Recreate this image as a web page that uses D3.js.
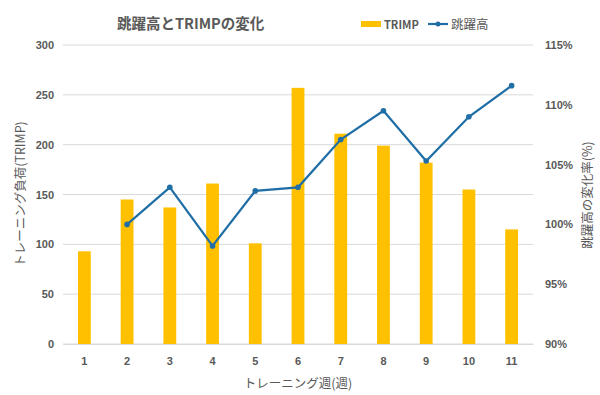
<!DOCTYPE html>
<html>
<head>
<meta charset="utf-8">
<script src="https://cdn.jsdelivr.net/npm/d3@7"></script>
<style>
  body { margin: 0; background: #fff; }
  svg { font-family: "Noto Sans CJK JP", "Noto Sans", sans-serif; }
</style>
</head>
<body>
<svg width="600" height="395"></svg>
<script>
// データ
const weeks = ["1", "2", "3", "4", "5", "6", "7", "8", "9", "10", "11"];
const trimp = [93, 145, 137, 161, 101, 257, 211, 199, 182, 155, 115];
const jumpRate = [null, 100.0, 103.1, 98.2, 102.8, 103.1, 107.1, 109.5, 105.3, 109.0, 111.6];
const leftTicks = [0, 50, 100, 150, 200, 250, 300];
const rightTicks = [90, 95, 100, 105, 110, 115];

const svg = d3.select("svg");
const textColor = "#595959";

// プロット領域
const area = { left: 63, right: 533, top: 45, bottom: 344 };

const scX = d3.scaleBand()
    .domain(weeks)
    .range([area.left, area.right])
    .paddingInner(0.7)
    .paddingOuter(0.35);

const scY = d3.scaleLinear().domain([0, 300]).range([area.bottom, area.top]);
const scY2 = d3.scaleLinear().domain([90, 115]).range([area.bottom, area.top]);

// グリッド線
svg.append("g")
    .selectAll("line")
    .data(leftTicks)
    .enter()
    .append("line")
    .attr("x1", area.left)
    .attr("x2", area.right)
    .attr("y1", d => scY(d))
    .attr("y2", d => scY(d))
    .style("stroke", "#d9d9d9")
    .style("stroke-width", 1);

// 左軸
const axisL = svg.append("g")
    .attr("transform", `translate(${area.left - 9}, 0)`)
    .call(d3.axisLeft(scY).tickValues(leftTicks).tickSize(0).tickPadding(0));
axisL.select(".domain").remove();

// 右軸
const axisR = svg.append("g")
    .attr("transform", `translate(${area.right + 12}, 0)`)
    .call(d3.axisRight(scY2).tickValues(rightTicks).tickSize(0).tickPadding(0)
        .tickFormat(d => d + "%"));
axisR.select(".domain").remove();

// X軸
const axisB = svg.append("g")
    .attr("transform", `translate(0, ${area.bottom})`)
    .call(d3.axisBottom(scX).tickSize(0).tickPadding(13));
axisB.select(".domain").style("stroke", "#d9d9d9");

svg.selectAll(".tick text")
    .style("font-size", "11px")
    .style("font-weight", "bold")
    .style("fill", textColor);

// 棒グラフ (TRIMP)
svg.selectAll("rect.bar")
    .data(weeks)
    .enter()
    .append("rect")
    .attr("class", "bar")
    .attr("x", d => scX(d))
    .attr("y", (d, i) => scY(trimp[i]))
    .attr("width", scX.bandwidth())
    .attr("height", (d, i) => area.bottom - scY(trimp[i]))
    .style("fill", "#ffc000");

// 折れ線 (跳躍高)
const lineData = weeks.map((d, i) => ({ week: d, value: jumpRate[i] }))
    .filter(d => d.value !== null);

const line = d3.line()
    .x(d => scX(d.week) + scX.bandwidth() / 2)
    .y(d => scY2(d.value));

svg.append("path")
    .datum(lineData)
    .attr("d", line)
    .style("fill", "none")
    .style("stroke", "#1f6ea6")
    .style("stroke-width", 2.2);

svg.selectAll("circle.pt")
    .data(lineData)
    .enter()
    .append("circle")
    .attr("class", "pt")
    .attr("cx", d => scX(d.week) + scX.bandwidth() / 2)
    .attr("cy", d => scY2(d.value))
    .attr("r", 2.8)
    .style("fill", "#1f6ea6");

// タイトル
svg.append("text")
    .attr("x", 117)
    .attr("y", 29)
    .text("跳躍高とTRIMPの変化")
    .style("font-size", "14.5px")
    .style("font-weight", "bold")
    .style("fill", textColor);

// 凡例
const legend = svg.append("g");
legend.append("rect")
    .attr("x", 361).attr("y", 21)
    .attr("width", 20).attr("height", 6)
    .style("fill", "#ffc000");
legend.append("text")
    .attr("x", 384).attr("y", 29)
    .text("TRIMP")
    .style("font-size", "11px")
    .style("font-weight", "bold")
    .style("fill", textColor);
legend.append("line")
    .attr("x1", 428).attr("x2", 448)
    .attr("y1", 24).attr("y2", 24)
    .style("stroke", "#1f6ea6")
    .style("stroke-width", 2.2);
legend.append("circle")
    .attr("cx", 438).attr("cy", 24).attr("r", 2.5)
    .style("fill", "#1f6ea6");
legend.append("text")
    .attr("x", 451).attr("y", 29)
    .text("跳躍高")
    .style("font-size", "12.5px")
    .style("fill", textColor);

// 軸タイトル
svg.append("text")
    .attr("transform", "translate(25, 194) rotate(-90)")
    .attr("text-anchor", "middle")
    .text("トレーニング負荷(TRIMP)")
    .style("font-size", "12.5px")
    .style("fill", textColor);

svg.append("text")
    .attr("transform", "translate(592, 195) rotate(-90)")
    .attr("text-anchor", "middle")
    .text("跳躍高の変化率(%)")
    .style("font-size", "12.5px")
    .style("fill", textColor);

svg.append("text")
    .attr("x", 298)
    .attr("y", 388)
    .attr("text-anchor", "middle")
    .text("トレーニング週(週)")
    .style("font-size", "12.5px")
    .style("fill", textColor);
</script>
</body>
</html>
